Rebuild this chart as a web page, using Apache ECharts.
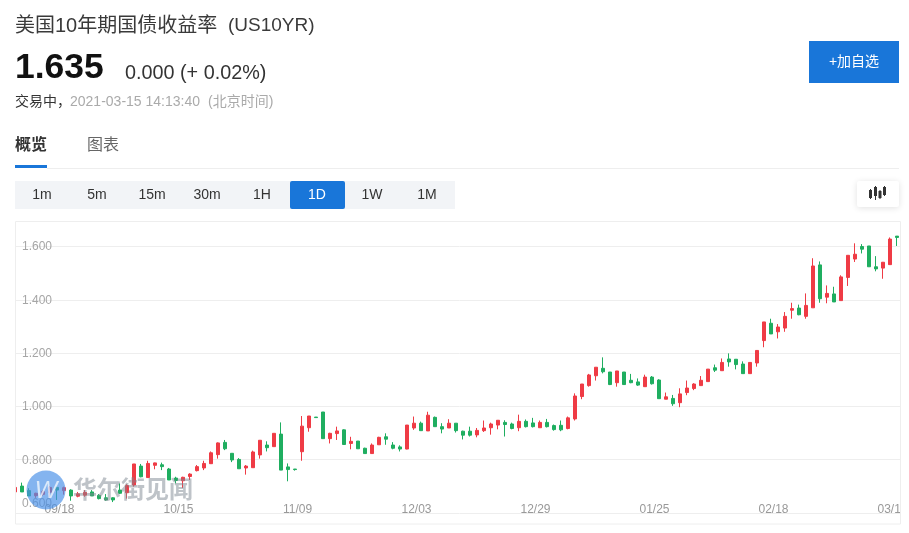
<!DOCTYPE html>
<html><head><meta charset="utf-8">
<style>html,body{margin:0;padding:0;background:#fff}#c{width:909px;height:533px}</style>
<script src="https://cdn.jsdelivr.net/npm/echarts@6/dist/echarts.min.js"></script>
</head><body><div id="c"></div>
<script>
const dates=["09/10","09/11","09/14","09/15","09/16","09/17","09/18","09/21","09/22","09/23","09/24","09/25","09/28","09/29","09/30","10/05","10/06","10/07","10/08","10/09","10/12","10/13","10/14","10/15","10/16","10/19","10/20","10/21","10/22","10/23","10/26","10/27","10/28","10/29","10/30","11/02","11/03","11/04","11/05","11/06","11/09","11/10","11/11","11/12","11/13","11/16","11/17","11/18","11/19","11/20","11/23","11/24","11/25","11/27","11/30","12/01","12/02","12/03","12/04","12/07","12/08","12/09","12/10","12/11","12/14","12/15","12/16","12/17","12/18","12/21","12/22","12/23","12/24","12/28","12/29","12/30","12/31","01/04","01/05","01/06","01/07","01/08","01/11","01/12","01/13","01/14","01/15","01/19","01/20","01/21","01/22","01/25","01/26","01/27","01/28","01/29","02/01","02/02","02/03","02/04","02/05","02/08","02/09","02/10","02/11","02/12","02/16","02/17","02/18","02/19","02/21","02/22","02/23","02/24","02/25","02/26","03/01","03/02","03/03","03/04","03/05","03/08","03/09","03/10","03/11","03/12","03/15",""];
const opens=[.679,.701,.684,.665,.670,.676,.696,.684,.686,.663,.667,.679,.666,.657,.657,.686,.676,.705,.776,.733,.779,.781,.765,.731,.721,.737,.759,.769,.785,.819,.865,
.824,.801,.769,.770,.818,.855,.849,.896,.773,.765,.830,.920,.960,.979,.879,.898,.912,.861,.870,.843,.823,.856,.886,.855,.848,.840,.919,.937,.908,.959,.924,.919,.937,
.907,.907,.893,.909,.920,.930,.940,.934,.920,.944,.938,.920,.940,.928,.929,.917,.953,1.037,1.078,1.115,1.143,1.129,1.089,1.129,1.098,1.092,1.074,1.110,1.099,1.027,1.030,1.014,1.052,
1.067,1.078,1.093,1.145,1.134,1.178,1.177,1.159,1.123,1.163,1.247,1.312,1.280,1.294,1.361,1.369,1.338,1.370,1.531,1.410,1.422,1.397,1.484,1.553,1.600,1.602,1.524,1.519,1.532,1.639];
const closes=[.696,.679,.664,.674,.680,.696,.686,.695,.664,.672,.677,.664,.654,.649,.649,.674,.703,.784,.736,.786,.788,.774,.724,.722,.734,.746,.774,.786,.826,.863,.841,
.799,.766,.776,.829,.873,.845,.899,.761,.763,.763,.926,.964,.958,.879,.899,.908,.857,.869,.841,.823,.855,.884,.877,.843,.840,.930,.937,.909,.967,.924,.915,.937,.909,
.892,.892,.910,.919,.934,.948,.932,.917,.944,.924,.924,.940,.924,.913,.912,.957,1.039,1.084,1.118,1.147,1.130,1.082,1.133,1.082,1.089,1.080,1.110,1.085,1.029,1.036,1.010,1.047,1.069,
1.084,1.098,1.140,1.136,1.165,1.167,1.157,1.123,1.165,1.210,1.317,1.272,1.298,1.338,1.367,1.344,1.379,1.527,1.404,1.424,1.392,1.486,1.567,1.571,1.590,1.524,1.516,1.541,1.628,1.634];
const lows=[.679,.679,.664,.657,.664,.659,.649,.669,.646,.659,.661,.664,.651,.646,.641,.671,.654,.699,.734,.733,.764,.761,.724,.711,.694,.724,.756,.761,.784,.804,.836,
.791,.766,.744,.770,.804,.831,.849,.761,.719,.759,.796,.905,.958,.879,.861,.874,.857,.839,.841,.823,.823,.856,.856,.839,.831,.839,.912,.909,.908,.924,.899,.919,.902,
.876,.887,.884,.904,.894,.914,.887,.914,.907,.921,.921,.920,.921,.909,.907,.914,.947,1.027,1.074,1.097,1.124,1.080,1.074,1.082,1.087,1.077,1.074,1.082,1.029,1.027,1.002,.997,1.042,
1.061,1.077,1.093,1.129,1.134,1.149,1.139,1.123,1.123,1.149,1.222,1.272,1.255,1.280,1.329,1.342,1.329,1.370,1.389,1.387,1.392,1.397,1.452,1.542,1.574,1.524,1.507,1.479,1.532,1.602];
const highs=[.696,.714,.693,.676,.686,.701,.699,.699,.689,.679,.686,.686,.671,.671,.659,.711,.708,.784,.784,.796,.789,.789,.769,.736,.736,.749,.780,.796,.831,.865,.874,
.824,.806,.780,.834,.873,.869,.899,.940,.786,.765,.964,.964,.960,.979,.901,.924,.914,.886,.870,.845,.861,.886,.899,.866,.854,.930,.962,.943,.980,.962,.937,.952,.937,
.909,.924,.919,.947,.939,.948,.948,.939,.969,.951,.957,.947,.953,.932,.947,.962,1.049,1.084,1.122,1.147,1.184,1.129,1.133,1.129,1.122,1.105,1.119,1.114,1.102,1.052,1.043,1.068,1.097,
1.087,1.114,1.140,1.157,1.180,1.199,1.177,1.169,1.165,1.210,1.317,1.329,1.309,1.354,1.389,1.382,1.424,1.556,1.544,1.454,1.449,1.492,1.567,1.612,1.609,1.602,1.564,1.542,1.634,1.639];
const periods=["1m","5m","15m","30m","1H","1D","1W","1M"];
const activePeriod="1D";
const yTicks=[0.6,0.8,1.0,1.2,1.4,1.6];
const UP="#ef3b45",DOWN="#1fae60",BLUE="#1976d9";
const LATIN='"Liberation Sans","Noto Sans CJK SC",sans-serif';
const txt=(text,x,y,size,fill,extra)=>({type:'text',z:50,style:Object.assign({text,x,y,fontSize:size,fontFamily:LATIN,fill,textVerticalAlign:'middle',textBaseline:'middle'},extra||{})});
const box=(x,y,w,h,fill,extra,z)=>({type:'rect',z:z||40,shape:Object.assign({x,y,width:w,height:h},extra&&extra.shape||{}),style:Object.assign({fill},extra&&extra.style||{})});
const els=[];
els.push(box(901,215,8,318,'#fff',null,60));
els.push(box(0,215,15.5,318,'#fff',null,44));
els.push(box(15.5,221.5,885,302.5,'none',{style:{stroke:'#eeeeee',lineWidth:1}},45));
els.push(txt("美国10年期国债收益率",15,26,20,'#3a3a3a'));
els.push(txt("(US10YR)",228,26,19,'#3a3a3a'));
els.push(txt("1.635",15,68,35.5,'#111',{fontWeight:'bold'}));
els.push(txt("0.000 (+ 0.02%)",125,74,19.8,'#333'));
els.push(txt("交易中，",15,102,14,'#333'));
els.push(txt("2021-03-15 14:13:40",70,102,14,'#aaa'));
els.push(txt("(北京时间)",208,102,14,'#aaa'));
els.push(txt("概览",15,146,16,'#333',{fontWeight:'bold'}));
els.push(txt("图表",87,146,16,'#666'));
els.push(box(15,165,32,3,BLUE));
els.push(box(47,168,852,1,'#eeeeee'));
els.push(box(15,181,440,28,'#f2f4f7'));
periods.forEach((p,i)=>{
  const active=p===activePeriod;
  if(active)els.push(box(290,181,55,28,BLUE,{shape:{r:2}},41));
  els.push(txt(p,42+55*i,195,14,active?'#fff':'#333',{textAlign:'center',align:'center'}));
});
els.push(box(809,41,90,42,BLUE));
els.push(txt("+加自选",854,62,14,'#fff',{textAlign:'center',align:'center'}));
els.push(box(857,181,42,26,'#fff',{shape:{r:2},style:{shadowBlur:6,shadowColor:'rgba(0,0,0,.12)',shadowOffsetY:1}}));
[[870,189,199,190,198],[875,186,200,187,196],[879.5,190,199,191,198],[884,186,196,187,195]].forEach(c=>{
  els.push(box(c[0],c[1],1,c[2]-c[1],'#333',null,41));
  els.push(box(c[0]-1,c[3],3,c[4]-c[3],'#333',null,41));
});
// watermark
els.push({type:'circle',z:70,shape:{cx:46,cy:490,r:19.5},style:{fill:'#4a90e8',opacity:.68}});
els.push(txt("W",46,491,24,'rgba(255,255,255,.7)',{textAlign:'center',align:'center',fontStyle:'italic'}));
els[els.length-1].z=71;
els.push(txt("华尔街见闻",73,491,24,'rgba(125,135,145,.5)',{fontWeight:'bold'}));
els[els.length-1].z=71;

const chart=echarts.init(document.getElementById('c'),null,{renderer:'canvas',width:909,height:533});
chart.setOption({
  animation:false,
  backgroundColor:'#fff',
  grid:{left:15,right:5,top:222,bottom:20,containLabel:false,outerBoundsMode:'none'},
  xAxis:{type:'category',data:dates,boundaryGap:false,
    axisLine:{show:false},axisTick:{show:false},splitLine:{show:false},
    axisLabel:{inside:true,margin:-3,color:'#999',fontSize:12,fontFamily:LATIN,padding:[0,0,0,5],hideOverlap:false,
      interval:(i)=>(i-6)%17===0&&i>=6}},
  yAxis:{type:'value',min:0.6,max:1.692,interval:0.2,
    axisLine:{show:false},axisTick:{show:false},
    splitLine:{show:true,showMaxLine:false,lineStyle:{color:'#eeeeee',width:1}},
    axisLabel:{inside:true,margin:7,color:'#a6a6a6',fontSize:12,fontFamily:LATIN,showMaxLabel:false,padding:[1,0,0,0],
      formatter:(v)=>{
        const t=yTicks.find(y=>Math.abs(y-v)<1e-6);
        if(t===undefined)return '';
        return t===yTicks[0]?'{low|'+t.toFixed(3)+'}':t.toFixed(3);
      },
      rich:{low:{padding:[0,0,20,0],color:'#a6a6a6',fontSize:12,fontFamily:LATIN}}}},
  series:[{type:'candlestick',barWidth:4,clip:true,
    itemStyle:{color:UP,color0:DOWN,borderColor:UP,borderColor0:DOWN,borderWidth:1},
    data:opens.map((o,i)=>[o,closes[i],lows[i],highs[i]])}],
  graphic:{elements:els}
});
</script></body></html>
